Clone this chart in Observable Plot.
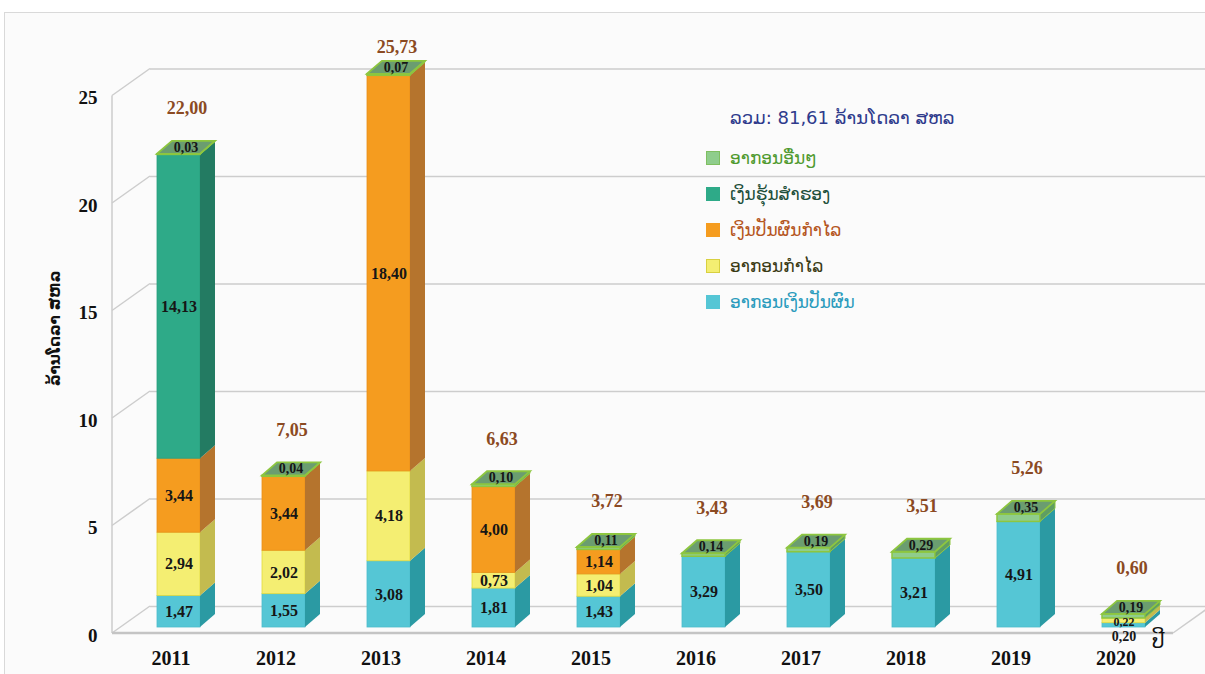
<!DOCTYPE html>
<html><head><meta charset="utf-8">
<script src="https://cdn.jsdelivr.net/npm/d3@7"></script>
<script src="https://cdn.jsdelivr.net/npm/@observablehq/plot@0.6"></script>
<style>
body{margin:0;background:#fff;}
#wrap{position:relative;width:1205px;height:674px;overflow:hidden;}
#bg{position:absolute;left:4px;top:12px;width:1220px;height:700px;border:1.5px solid #d9d9d9;background:#fbfbfb;}
#chart{position:absolute;left:0;top:0;}
#legend{position:absolute;left:706px;top:104px;font-family:"DejaVu Sans",sans-serif;}
#legend .title{font-size:18px;color:#2e3a8c;margin-left:24px;height:36px;line-height:28px;white-space:nowrap;}
#legend .row{display:flex;align-items:center;height:36px;font-size:17px;white-space:nowrap;}
#legend .sw{width:14px;height:14px;margin-right:10px;box-sizing:border-box;}
</style></head><body>
<div id="wrap"><div id="bg"></div><div id="chart"></div><div id="legend"></div></div>
<script>
// ---- data ----
const years = ["2011","2012","2013","2014","2015","2016","2017","2018","2019","2020"];
const seriesNames = ["ອາກອນເງິນປັນຜົນ","ອາກອນກຳໄລ","ເງິນປັນຜົນກຳໄລ","ເງິນຮຸ້ນສຳຮອງ","ອາກອນອື່ນໆ"];
const dividendTax    = [1.47,1.55,3.08,1.81,1.43,3.29,3.50,3.21,4.91,0.20];
const profitTax      = [2.94,2.02,4.18,0.73,1.04,0,0,0,0,0.22];
const dividendProfit = [3.44,3.44,18.40,4.00,1.14,0,0,0,0,0];
const reserveShares  = [14.13,0,0,0,0,0,0,0,0,0];
const otherTax       = [0.03,0.04,0.07,0.10,0.11,0.14,0.19,0.29,0.35,0.19];
const totals         = [22.00,7.05,25.73,6.63,3.72,3.43,3.69,3.51,5.26,0.60];
const yTicks = [0,5,10,15,20,25];
const legendTitle = "ລວມ: 81,61 ລ້ານໂດລາ ສຫລ";
const yTitle = "ລ້ານໂດລາ ສຫລ";
const xTitle = "ປີ";

// ---- styles ----
const palette = [
  {front:"#55c6d5", side:"#2b9aa3", stroke:"#4bbccb"},
  {front:"#f4ee72", side:"#c3bb4f", stroke:"#e2da3c"},
  {front:"#f59c1f", side:"#b5742d", stroke:"#e8901a"},
  {front:"#2eaa88", side:"#237b62", stroke:"#2a9e7e"},
  {front:"#8fcd8c", side:"#5f9e62", stroke:"#8dc63f"}
];
const legendText = ["#2b9bbd","#3a3a14","#b5561e","#1d4f3a","#4f9a2f"];
const D = 15, E = 13;              // bar depth offsets
const WX = 38, WY = 27;            // wall depth offsets
const FRONT = 6;                   // front plane offset

const seriesVals = [dividendTax, profitTax, dividendProfit, reserveShares, otherTax];
const rows = [];
years.forEach((yr, i) => {
  let acc = 0;
  seriesVals.forEach((vals, s) => {
    const v = vals[i];
    if (v > 0) { rows.push({year: yr, s, v, y1: acc, y2: acc + v, isTop: false}); acc += v; }
  });
  rows[rows.length - 1].isTop = true;
});
const fmt = v => v.toFixed(2).replace(".", ",");
const topLabels = rows.filter(d => d.s === 4);
const belowLabels = rows.filter(d => d.s !== 4 && d.y1 === 0 && d.v < 0.5);
const midLabels = rows.filter(d => d.s !== 4 && !(d.y1 === 0 && d.v < 0.5) && d.v >= 0.5);
const thinLabels = rows.filter(d => d.s !== 4 && !(d.y1 === 0 && d.v < 0.5) && d.v < 0.5);
const totalRows = years.map((yr, i) => ({year: yr, total: totals[i]}));

function render3d(index, scales, values) {
  const bw = scales.x.bandwidth();
  const g = d3.create("svg:g");
  for (const i of index) {
    const d = rows[i], c = palette[d.s];
    const x0 = values.x[i];
    const yt = Math.min(values.y1[i], values.y2[i]);
    const yb = Math.max(values.y1[i], values.y2[i]);
    g.append("rect").attr("x", x0).attr("y", yt).attr("width", bw).attr("height", yb - yt)
      .attr("fill", c.front).attr("stroke", c.stroke).attr("stroke-width", d.s === 4 ? 1.5 : 0.8);
    g.append("path").attr("d", `M${x0+bw},${yt}L${x0+bw+D},${yt-E}L${x0+bw+D},${yb-E}L${x0+bw},${yb}Z`)
      .attr("fill", c.side).attr("stroke", d.s === 4 ? c.stroke : "none").attr("stroke-width", 1);
    if (d.isTop) {
      g.append("path").attr("d", `M${x0},${yt}L${x0+D},${yt-E}L${x0+bw+D},${yt-E}L${x0+bw},${yt}Z`)
        .attr("fill", "#6b9d70").attr("stroke", "#8dc63f").attr("stroke-width", 1.8);
    }
  }
  return g.node();
}

function walls(index, scales, values, dims) {
  const L = dims.marginLeft;
  const g = d3.create("svg:g").attr("stroke", "#cdcdcd").attr("stroke-width", 1.5).attr("fill", "none");
  for (const t of yTicks) {
    const y = scales.y(t);
    g.append("line").attr("x1", L).attr("y1", y + FRONT).attr("x2", L + WX).attr("y2", y + FRONT - WY);
  }
  const y0 = scales.y(0) + FRONT, yTop = scales.y(25) + FRONT;
  g.append("line").attr("x1", L).attr("x2", L).attr("y1", y0).attr("y2", yTop);
  const xr = L + 1061;
  g.append("line").attr("x1", L).attr("y1", y0).attr("x2", xr).attr("y2", y0).attr("stroke-width", 2.5).attr("stroke", "#c4c4c4");
  g.append("line").attr("x1", xr).attr("y1", y0).attr("x2", xr + WX).attr("y2", y0 - WY);
  return g.node();
}

const chart = Plot.plot({
  width: 1205, height: 674,
  marginLeft: 112, marginRight: 0, marginTop: 20, marginBottom: 47,
  style: {background: "transparent", fontFamily: "'Liberation Serif', serif", fontWeight: "bold", color: "#111"},
  x: {type: "band", domain: years, range: [101.7, 1200.7], paddingInner: 0.593, paddingOuter: 0.5, label: null},
  y: {domain: [0, 25], range: [627, 89.5], label: null},
  marks: [
    Plot.ruleY(yTicks, {dx: WX, dy: FRONT - WY, stroke: "#cdcdcd", strokeWidth: 1.5}),
    walls,
    Plot.axisY(yTicks, {anchor: "left", tickSize: 0, tickPadding: 15, dy: FRONT + 2, fontSize: 19, letterSpacing: 2, tickFormat: d => d, label: null}),
    Plot.axisX({tickSize: 0, tickPadding: 23, dx: -8, fontSize: 20, letterSpacing: 2, label: null}),
    Plot.text([yTitle], {frameAnchor: "left", rotate: -90, dx: -57, dy: 62, fontSize: 15, fontFamily: "DejaVu Sans", fontWeight: "bold", fill: "#111"}),
    Plot.text([xTitle], {frameAnchor: "bottom-right", dx: -41, dy: 20, fontSize: 20, fontFamily: "DejaVu Sans", fontWeight: "normal", fill: "#111"}),
    Plot.barY(rows, {x: "year", y1: "y1", y2: "y2", render: render3d}),
    Plot.text(midLabels, {x: "year", y: d => (d.y1 + d.y2) / 2, text: d => fmt(d.v), fontSize: 16, letterSpacing: 1, fill: "#161616"}),
    Plot.text(thinLabels, {x: "year", y: d => (d.y1 + d.y2) / 2, dy: 1, text: d => fmt(d.v), fontSize: 12, fill: "#161616"}),
    Plot.text(belowLabels, {x: "year", y: d => d.y1, dy: 9, text: d => fmt(d.v), fontSize: 14, fill: "#161616"}),
    Plot.text(topLabels, {x: "year", y: d => d.y2, dx: 7, dy: -7, text: d => fmt(d.v), fontSize: 14, letterSpacing: 0.5, fill: "#161616"}),
    Plot.text(totalRows, {x: "year", y: d => Math.min(d.total, 24.84), dx: 8, dy: -46, text: d => fmt(d.total), fontSize: 18, letterSpacing: 1, fill: "#8b4a22"})
  ]
});
document.getElementById("chart").append(chart);

// legend
const leg = d3.select("#legend");
leg.append("div").attr("class", "title").text(legendTitle);
[4, 3, 2, 1, 0].forEach(s => {
  const r = leg.append("div").attr("class", "row");
  r.append("div").attr("class", "sw").style("background", palette[s].front)
    .style("border", `1px solid ${s === 4 ? "#7fbf60" : s === 1 ? "#d8d040" : palette[s].front}`);
  r.append("span").style("color", legendText[s]).text(seriesNames[s]);
});
</script>
</body></html>
